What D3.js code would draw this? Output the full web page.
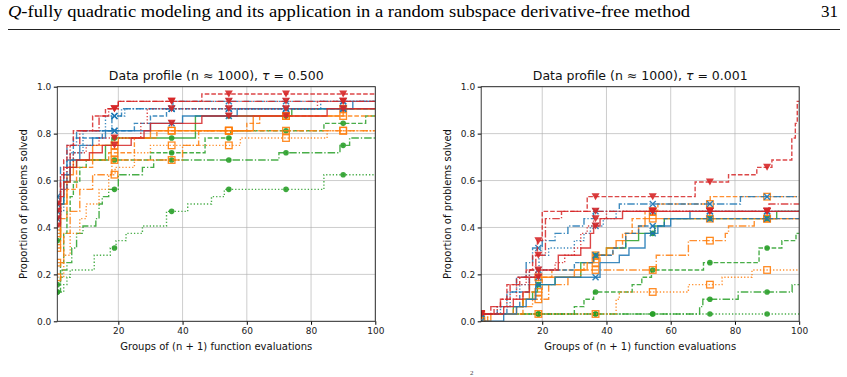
<!DOCTYPE html>
<html>
<head>
<meta charset="utf-8">
<script src="https://cdn.jsdelivr.net/npm/d3@7"></script>
<style>
  body { margin: 0; background: #fff; }
  svg { display: block; }
</style>
</head>
<body>
<svg id="page" width="847" height="377"></svg>
<script>
// Configuration
const width = 847;
const height = 377;
const nProblems = 32;

// Tick labels and marker positions
const xTicks = [20, 40, 60, 80, 100];
const yTicks = [0, 0.2, 0.4, 0.6, 0.8, 1.0];
const markX = [1, 18.8, 36.6, 54.4, 72.2, 90];
const titles = ["0.500", "0.001"];

// solvers (colour + marker) and variants (line style)
const solverColors = ["#1f77b4", "#ff7f0e", "#2ca02c", "#d62728"];
const solverMarkers = ["x", "square", "circle", "triangle"];
const variants = ["solid", "dashed", "dashdot", "dotted"];

// steps: [group of (n+1) evals, problems solved out of 32], order solid/dashed/dashdot/dotted
// tau = 0.500
const leftBlue = [
  [[1,16],[3,20],[5,22],[8,24],[12,25],[16,26],[30,27],[40,28],[57,29],[93,30]],
  [[1,14],[2,18],[4,22],[6,25],[15,26],[25,27],[30,28],[35,29]],
  [[1,17],[2,21],[4,24],[7,26],[18,28],[21,29],[37,30]],
  [[1,15],[3,20],[5,23],[9,26],[16,28],[22,29],[83,30]]
];
const leftOrange = [
  [[1,12],[2,16],[4,20],[6,22],[12,24],[20,25],[30,26],[62,28],[90,29]],
  [[1,10],[2,14],[4,18],[7,21],[12,22],[17,23],[25,25],[32,26],[60,27],[64,28]],
  [[1,8],[3,12],[5,15],[8,18],[12,20],[18,22],[40,24],[45,26]],
  [[1,6],[3,9],[5,12],[8,14],[10,16],[14,18],[17,20],[19,21],[25,23],[30,24],[58,25],[85,26]]
];
const leftGreen = [
  [[1,11],[2,16],[3,19],[5,21],[7,22],[16,24],[18,25],[44,28],[74,29]],
  [[1,5],[2,8],[3,12],[4,15],[5,17],[6,19],[8,21],[10,22],[30,23],[47,25],[55,26],[84,27],[97,28]],
  [[1,4],[2,6],[2.5,7],[4,8],[5.5,10],[7,12],[9,13],[13,14],[14,16],[15,17],[17,18],[20,20],[27.5,21],[31,22],[70,23],[89,24],[92,25]],
  [[1,4],[3,5],[4,6],[5,7],[12.5,9],[17.5,10],[19.3,11],[22.4,12],[27.5,13],[35,15],[41.6,16],[49,17],[53,18],[84,20]]
];
const leftRed = [
  [[1,13],[2,17],[3,19],[5,21],[7,22],[11,23],[15,24],[24,25],[28,26],[30,27],[46,28],[85,29]],
  [[1,16],[2,20],[3,22],[4,24],[6,26],[12,28],[16,29],[20,30],[46,31]],
  [[1,15],[2,19],[3,21],[5,24],[8,26],[14,28],[17,29],[20,30]],
  [[1,14],[2,18],[4,21],[6,23],[10,24],[14,25],[27,27],[29,29],[82,30]]
];

// tau = 0.001
const rightBlue = [
  [[1,0],[8,1],[12,2],[15,3],[18,5],[24,6],[38,8],[44,9],[47,10],[52,12],[56,13],[60,14],[66,15]],
  [[1,1],[9,2],[13,4],[16,6],[19,7],[30,8],[36,9],[42,10],[46,12],[50,13],[58,14]],
  [[1,1],[6,2],[9,4],[12,6],[15,8],[17,10],[20,11],[24,12],[28,13],[33,14],[36,15],[44,16],[81.7,17]],
  [[1,1],[7,2],[10,4],[13,5],[16,7],[19,9],[22,10],[30,11],[33,12],[35,13],[39,14],[43,15]]
];
const rightOrange = [
  [[1,0],[4,1],[12,2],[14,3],[16,5],[18,6],[30,7],[34,8],[36,9],[40,10],[43,11],[46,12],[50,13],[52,14]],
  [[1,0],[3,1],[11,2],[14,4],[20,6],[23,7],[33,8],[38,9],[42,10],[45,12],[48,14],[52,15],[56,16],[72.3,17]],
  [[1,1],[14,2],[17,3],[22,5],[28,6],[32,7],[55.5,9],[65.5,11],[77,12],[78,13],[86,14]],
  [[1,0],[3,1],[42,1],[43,3],[44,4],[65.5,5],[76,6],[85.3,7]]
];
const rightGreen = [
  [[1,1],[11,2],[14,3],[17,4],[18.5,5],[24,6],[32,8],[36,9],[40,10],[46,11],[50,12],[55,13],[58,14],[93,15]],
  [[1,1],[30,2],[33,3],[36,4],[48,5],[51,6],[54,7],[70.2,8],[87.5,10],[94.6,11],[99,12]],
  [[1,1],[69,2],[70,3],[81,4],[97.8,5]],
  [[1,1]]
];
const rightRed = [
  [[1,1],[8,2],[11,3],[14,4],[16,6],[19,7],[25,9],[32,10],[35,12],[36,13],[38,14],[45,15]],
  [[1,1],[5,2],[7,3],[9,5],[12,6],[15,7],[17,9],[18.5,11],[20,15],[34,17],[67.6,19],[78,20],[86.8,21],[91.5,22],[97.7,25],[98.8,27],[99.4,30]],
  [[1,1],[4,2],[7,3],[10,5],[13,6],[16,7],[18,9],[21,14],[26,15],[90.6,16]],
  [[1,1],[6,2],[9,3],[12,5],[15,6],[18,7],[24,8],[27,9],[30,10],[32,12],[34,13],[36,14],[40,15]]
];

const panels = [
  {left: 57.3, series: [leftBlue, leftOrange, leftGreen, leftRed]},
  {left: 481.2, series: [rightBlue, rightOrange, rightGreen, rightRed]}
];

const plotW = 318;
const plotTop = 86.7;
const plotBottom = 321.3;

const dashes = {solid: null, dashed: "4.6,2", dashdot: "7.5,2,1.3,2", dotted: "1.3,2"};
const drawOrder = [2, 1, 0, 3]; // green, orange, blue, red

const svg = d3.select("#page");

// page header
svg.append("text")
  .attr("x", 8).attr("y", 17)
  .attr("font-family", "'Liberation Serif', 'DejaVu Serif', serif")
  .attr("font-size", 17)
  .attr("textLength", 682)
  .attr("lengthAdjust", "spacingAndGlyphs")
  .call(t => t.append("tspan").attr("font-style", "italic").text("Q"))
  .call(t => t.append("tspan").text("-fully quadratic modeling and its application in a random subspace derivative-free method"));
svg.append("text")
  .attr("x", 838).attr("y", 17)
  .attr("text-anchor", "end")
  .attr("font-family", "'Liberation Serif', 'DejaVu Serif', serif")
  .attr("font-size", 17)
  .text("31");
svg.append("line")
  .attr("x1", 8).attr("x2", 840).attr("y1", 29.5).attr("y2", 29.5)
  .attr("stroke", "#222").attr("stroke-width", 1);
// footnote mark at the bottom edge
svg.append("text")
  .attr("x", 470).attr("y", 375)
  .attr("font-family", "'Liberation Serif', serif")
  .attr("font-size", 7)
  .attr("fill", "#444")
  .text("2");

function valueAt(steps, x) {
  let v = steps[0][1];
  for (const [sx, k] of steps) if (sx <= x) v = k;
  return v / nProblems;
}

function drawMarker(g, type, color, px, py) {
  if (type === "x") {
    g.append("path")
      .attr("d", `M${px-3},${py-3}L${px+3},${py+3}M${px-3},${py+3}L${px+3},${py-3}`)
      .attr("stroke", color).attr("stroke-width", 1.4);
  } else if (type === "square") {
    g.append("rect")
      .attr("x", px - 3.3).attr("y", py - 3.3).attr("width", 6.6).attr("height", 6.6)
      .attr("fill", "none").attr("stroke", color).attr("stroke-width", 1.3);
  } else if (type === "circle") {
    g.append("circle").attr("cx", px).attr("cy", py).attr("r", 2.8).attr("fill", color);
  } else {
    g.append("path")
      .attr("d", `M${px-4},${py-3.5}L${px+4},${py-3.5}L${px},${py+3.5}Z`)
      .attr("fill", color);
  }
}

panels.forEach((p, pi) => {
  const x = d3.scaleLinear([1, 100], [p.left, p.left + plotW]);
  const y = d3.scaleLinear([0, 1], [plotBottom, plotTop]);
  const g = svg.append("g");

  const clipId = "clip" + pi;
  g.append("clipPath").attr("id", clipId)
    .append("rect").attr("x", p.left).attr("y", plotTop).attr("width", plotW).attr("height", plotBottom - plotTop);

  // grid
  g.append("g").selectAll("line").data(xTicks).join("line")
    .attr("x1", d => x(d)).attr("x2", d => x(d)).attr("y1", plotTop).attr("y2", plotBottom)
    .attr("stroke", "#b0b0b0").attr("stroke-width", 0.8).attr("stroke-opacity", 0.8);
  g.append("g").selectAll("line").data(yTicks).join("line")
    .attr("x1", p.left).attr("x2", p.left + plotW).attr("y1", d => y(d)).attr("y2", d => y(d))
    .attr("stroke", "#b0b0b0").attr("stroke-width", 0.8).attr("stroke-opacity", 0.8);

  const line = d3.line().x(d => x(d[0])).y(d => y(d[1])).curve(d3.curveStepAfter);
  const plot = g.append("g").attr("clip-path", `url(#${clipId})`);

  drawOrder.forEach(si => {
    const color = solverColors[si];
    p.series[si].forEach((steps, vi) => {
      const pts = steps.map(([sx, k]) => [sx, k / nProblems]);
      pts.push([100, pts[pts.length - 1][1]]);
      plot.append("path")
        .attr("d", line(pts))
        .attr("fill", "none")
        .attr("stroke", color)
        .attr("stroke-width", 1.4)
        .attr("stroke-opacity", 0.85)
        .attr("stroke-dasharray", dashes[variants[vi]]);
      const mg = plot.append("g").attr("opacity", 0.9);
      markX.forEach(mx => drawMarker(mg, solverMarkers[si], color, x(mx), y(valueAt(steps, mx))));
    });
  });

  // axes
  const xAxis = d3.axisBottom(x).tickValues(xTicks).tickSize(3.5).tickPadding(2.5).tickFormat(d3.format("d"));
  const yAxis = d3.axisLeft(y).tickValues(yTicks).tickSize(3.5).tickPadding(2.5).tickFormat(d3.format(".1f"));
  g.append("g").attr("transform", `translate(0,${plotBottom})`).call(xAxis)
    .call(a => a.select(".domain").remove())
    .call(a => a.selectAll("text").attr("font-family", "'DejaVu Sans', sans-serif").attr("font-size", 9).attr("fill", "#222"));
  g.append("g").attr("transform", `translate(${p.left},0)`).call(yAxis)
    .call(a => a.select(".domain").remove())
    .call(a => a.selectAll("text").attr("font-family", "'DejaVu Sans', sans-serif").attr("font-size", 9).attr("fill", "#222"));

  // frame
  g.append("rect")
    .attr("x", p.left).attr("y", plotTop).attr("width", plotW).attr("height", plotBottom - plotTop)
    .attr("fill", "none").attr("stroke", "#222").attr("stroke-width", 0.9);

  // labels
  const title = g.append("text")
    .attr("x", p.left + plotW / 2).attr("y", 80)
    .attr("text-anchor", "middle")
    .attr("font-family", "'DejaVu Sans', sans-serif")
    .attr("font-size", 12.5).attr("fill", "#111");
  title.append("tspan").text("Data profile (n \u2248 1000), ");
  title.append("tspan").attr("font-style", "italic").text("\u03c4");
  title.append("tspan").text(" = " + titles[pi]);

  g.append("text")
    .attr("x", p.left + plotW / 2).attr("y", 350)
    .attr("text-anchor", "middle")
    .attr("font-family", "'DejaVu Sans', sans-serif")
    .attr("font-size", 10).attr("fill", "#111")
    .text("Groups of (n + 1) function evaluations");

  g.append("text")
    .attr("transform", `translate(${p.left - 30},${(plotTop + plotBottom) / 2}) rotate(-90)`)
    .attr("text-anchor", "middle")
    .attr("font-family", "'DejaVu Sans', sans-serif")
    .attr("font-size", 10).attr("fill", "#111")
    .text("Proportion of problems solved");
});
</script>
</body>
</html>
